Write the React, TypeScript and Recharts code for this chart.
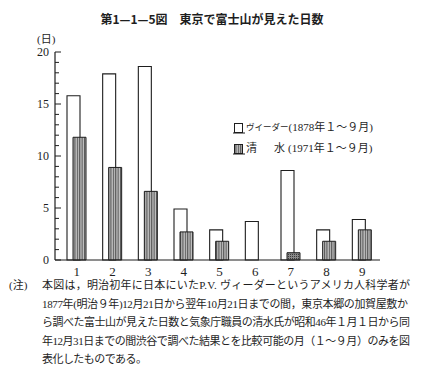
import React from 'react';
import { Bar, BarChart, Cell, Legend, XAxis, YAxis } from 'recharts';

// 月ごとの富士山が見えた日数
const months = ['1', '2', '3', '4', '5', '6', '7', '8', '9'];
const wiederDays = [15.8, 17.9, 18.6, 4.9, 2.9, 3.7, 8.6, 2.9, 3.9];
const shimizuDays = [11.8, 8.9, 6.6, 2.7, 1.8, 0, 0.7, 1.8, 2.9];
const yTicks = [0, 1, 2, 3, 4, 5, 6, 7, 8, 9, 10, 11, 12, 13, 14, 15, 16, 17, 18, 19, 20];
const yLabelTicks = [0, 5, 10, 15, 20];

const title = '第1—1—5図　東京で富士山が見えた日数';
const legendWieder = ['ヴイーダー', '(1878年１～９月)'];
const legendShimizu = ['清　水', '(1971年１～９月)'];
const noteHead = '(注)';
const noteLines = [
  '本図は，明治初年に日本にいたP.V. ヴィーダーというアメリカ人科学者が',
  '1877年(明治９年)12月21日から翌年10月21日までの間，東京本郷の加賀屋敷か',
  'ら調べた富士山が見えた日数と気象庁職員の清水氏が昭和46年１月１日から同',
  '年12月31日までの間渋谷で調べた結果とを比較可能の月（１～９月）のみを図',
  '表化したものである。',
];
const noteWidths = [368, 366, 368, 368, 105];

const chartData = months.map((m, i) => ({
  month: m,
  wieder: wiederDays[i],
  shimizu: shimizuDays[i],
}));

const ink = '#1e1e1e';
const font = '"Liberation Serif", "Noto Sans CJK JP", serif';

const YTick = (props: any) => {
  const { x, y, payload } = props;
  const major = yLabelTicks.includes(payload.value);
  return (
    <g>
      <line x1={x + 5} x2={x + 5 + (major ? 6 : 4)} y1={y} y2={y} stroke={ink} strokeWidth={1} />
      {major && (
        <text x={x - 1} y={y} dy={4} textAnchor="end" fontSize={12} fontFamily={font} fill={ink}>
          {payload.value}
        </text>
      )}
    </g>
  );
};

const LegendBox: React.FC = () => (
  <div style={{ fontFamily: font, color: ink, fontSize: 11, lineHeight: '21px' }}>
    <div style={{ display: 'flex', alignItems: 'center', whiteSpace: 'nowrap' }}>
      <svg width={12} height={12} style={{ marginRight: 1 }}>
        <rect x={1.5} y={1.5} width={8} height={9} fill="#fff" stroke={ink} />
        <line x1={0} x2={12} y1={11} y2={11} stroke={ink} />
      </svg>
      <span style={{ fontSize: 8.5 }}>{legendWieder[0]}</span>
      <span>{legendWieder[1]}</span>
    </div>
    <div style={{ display: 'flex', alignItems: 'center', whiteSpace: 'nowrap' }}>
      <svg width={12} height={12} style={{ marginRight: 1 }}>
        <rect x={1.5} y={1.5} width={8} height={9} fill="url(#stripes)" stroke={ink} />
        <line x1={0} x2={12} y1={11} y2={11} stroke={ink} />
      </svg>
      <span style={{ letterSpacing: 3 }}>{legendShimizu[0]}</span>
      <span>{legendShimizu[1]}</span>
    </div>
  </div>
);

export default function App() {
  return (
    <div
      style={{
        position: 'absolute',
        left: 0,
        top: 0,
        width: 424,
        height: 374,
        background: '#fff',
        overflow: 'hidden',
      }}
    >
      <div
        style={{
          position: 'absolute',
          top: 10,
          left: 0,
          width: 424,
          textAlign: 'center',
          fontFamily: '"Noto Sans CJK JP", sans-serif',
          fontWeight: 700,
          fontSize: 12,
          color: ink,
        }}
      >
        {title}
      </div>
      <div
        style={{
          position: 'absolute',
          top: 34,
          left: 37,
          fontFamily: font,
          fontSize: 11,
          lineHeight: '11px',
          color: ink,
        }}
      >
        (日)
      </div>
      <BarChart
        width={424}
        height={290}
        data={chartData}
        margin={{ top: 52, right: 44, left: 0, bottom: 8 }}
        barSize={13}
        barGap={-7}
      >
        <defs>
          <pattern id="stripes" width={2.4} height={10} patternUnits="userSpaceOnUse">
            <rect width={2.4} height={10} fill="#c4c4c4" />
            <line x1={0.6} x2={0.6} y1={0} y2={10} stroke="#3a3a3a" strokeWidth={0.9} />
          </pattern>
          <pattern id="dense" width={2} height={2} patternUnits="userSpaceOnUse">
            <rect width={2} height={2} fill="#8a8a8a" />
            <rect width={1} height={1} fill="#3a3a3a" />
          </pattern>
        </defs>
        <XAxis
          dataKey="month"
          height={22}
          tickLine={false}
          axisLine={{ stroke: ink, strokeWidth: 1.2 }}
          tick={{ fill: ink, fontSize: 13, fontFamily: font }}
          tickMargin={1}
          padding={{ left: 4, right: 0 }}
        />
        <YAxis
          width={55}
          domain={[0, 20]}
          ticks={yTicks}
          interval={0}
          tickSize={0}
          tickMargin={5}
          tick={<YTick />}
          axisLine={{ stroke: ink, strokeWidth: 1.2 }}
        />
        <Legend
          layout="vertical"
          align="center"
          verticalAlign="middle"
          content={<LegendBox />}
          wrapperStyle={{ top: 117, left: 233, width: 150, height: 44 }}
        />
        <Bar
          dataKey="wieder"
          fill="#fff"
          stroke={ink}
          strokeWidth={1.1}
          isAnimationActive={false}
        />
        <Bar
          dataKey="shimizu"
          fill="url(#stripes)"
          stroke={ink}
          strokeWidth={1}
          isAnimationActive={false}
        >
          {chartData.map((d) => (
            <Cell key={d.month} fill={d.month === '7' ? 'url(#dense)' : 'url(#stripes)'} />
          ))}
        </Bar>
      </BarChart>
      <svg
        width={424}
        height={90}
        style={{ position: 'absolute', left: 0, top: 278 }}
      >
        <text x={9} y={11} fontSize={11} fontFamily={font} fill={ink}>
          {noteHead}
        </text>
        {noteLines.map((line, i) => (
          <text
            key={i}
            x={42}
            y={11 + i * 18.6}
            fontSize={11}
            fontFamily={font}
            fill={ink}
            textLength={noteWidths[i]}
            lengthAdjust="spacing"
          >
            {line}
          </text>
        ))}
      </svg>
    </div>
  );
}
